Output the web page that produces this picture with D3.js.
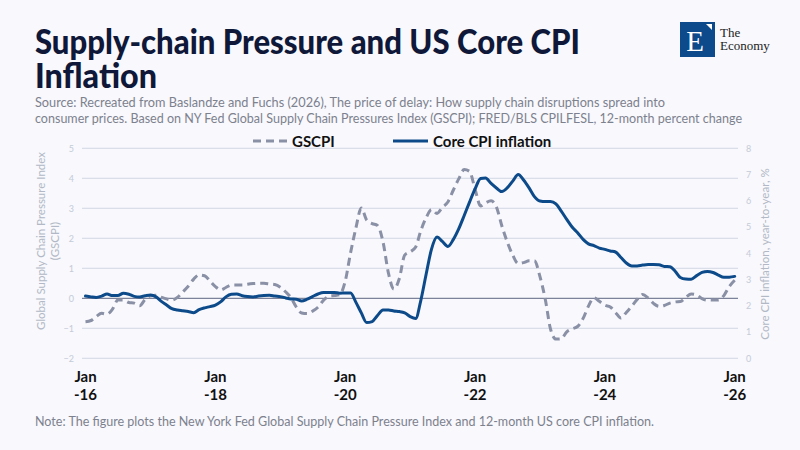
<!DOCTYPE html>
<html><head><meta charset="utf-8">
<script src="https://cdn.jsdelivr.net/npm/d3@7/dist/d3.min.js"></script>
<style>
html,body{margin:0;padding:0;background:#f8f8fd;}
svg{display:block;}
</style>
</head><body>
<svg id="chart" width="800" height="450"></svg>
<script>
// ---------- DATA (monthly, Jan 2016 – Jan 2026) ----------
const seriesNames = ["GSCPI", "Core CPI inflation"];
const gscpi = [
 -0.78,-0.74,-0.61,-0.50,-0.53,-0.36,-0.06,-0.06,-0.14,-0.16,-0.25,-0.04,
  0.08, 0.10, 0.04,-0.02,-0.06, 0.03, 0.21, 0.40, 0.64, 0.78, 0.75, 0.58,
  0.39, 0.28, 0.36, 0.44, 0.44, 0.44, 0.47, 0.49, 0.50, 0.50, 0.48, 0.46,
  0.37, 0.21, 0.03,-0.29,-0.49,-0.51,-0.43,-0.30,-0.07, 0.07, 0.09, 0.12,
  0.56, 1.53, 2.33, 3.01, 2.61, 2.49, 2.43, 1.88, 0.83, 0.31, 0.66, 1.44,
  1.55, 1.71, 2.24, 2.69, 2.96, 2.83, 3.03, 3.21, 3.61, 3.98, 4.29, 4.23,
  3.64, 3.08, 3.18, 3.25, 3.05, 2.41, 1.88, 1.44, 1.16, 1.19, 1.25, 1.25,
  0.73,-0.06,-1.01,-1.36,-1.35,-1.12,-1.02,-0.94,-0.67,-0.26, 0.02,-0.10,
 -0.23,-0.29,-0.47,-0.66,-0.47,-0.26,-0.04, 0.13, 0.01,-0.17,-0.27,-0.24,
 -0.16,-0.12,-0.11, 0.03, 0.14, 0.11,-0.01,-0.06,-0.06,-0.06, 0.09, 0.39,
  0.60
];
const coreCpi = [
 2.37,2.34,2.32,2.37,2.45,2.39,2.39,2.48,2.44,2.36,2.34,2.38,
 2.41,2.34,2.18,2.03,1.89,1.84,1.81,1.78,1.74,1.85,1.92,1.97,
 2.03,2.16,2.34,2.44,2.45,2.38,2.35,2.34,2.37,2.39,2.40,2.37,
 2.35,2.30,2.26,2.25,2.18,2.25,2.35,2.45,2.51,2.51,2.51,2.48,
 2.49,2.49,2.14,1.73,1.36,1.40,1.63,1.84,1.84,1.80,1.78,1.73,
 1.59,1.52,2.18,3.21,4.16,4.62,4.45,4.26,4.53,4.93,5.44,5.95,
 6.45,6.85,6.87,6.66,6.49,6.35,6.49,6.75,7.00,6.79,6.49,6.16,
 5.99,5.97,5.97,5.88,5.61,5.29,5.00,4.78,4.53,4.36,4.29,4.20,
 4.15,4.09,4.05,3.84,3.63,3.52,3.52,3.55,3.57,3.57,3.56,3.50,
 3.49,3.31,3.08,3.02,3.01,3.15,3.27,3.31,3.27,3.17,3.09,3.09,
 3.12
];
const leftTicks = [-2,-1,0,1,2,3,4,5];
const rightTicks = [0,1,2,3,4,5,6,7,8];
const xTickYears = [2016,2018,2020,2022,2024,2026];
const xTickMonth = "Jan";
const xTickYearLabels = ["-16","-18","-20","-22","-24","-26"];

const titleLines = ["Supply-chain Pressure and US Core CPI", "Inflation"];
const sourceLines = [
 "Source: Recreated from Baslandze and Fuchs (2026), The price of delay: How supply chain disruptions spread into",
 "consumer prices. Based on NY Fed Global Supply Chain Pressures Index (GSCPI); FRED/BLS CPILFESL, 12-month percent change"
];
const noteText = "Note: The figure plots the New York Fed Global Supply Chain Pressure Index and 12-month US core CPI inflation.";
const leftTitle = ["Global Supply Chain Pressure Index", "(GSCPI)"];
const rightTitle = "Core CPI inflation, year-to-year, %";

// ---------- SETUP ----------
const svg = d3.select("#chart");
const FONT = "Lato, 'Source Sans Pro', 'Noto Sans', sans-serif";
const SERIF = "'Liberation Serif','DejaVu Serif',serif";
const C = {
  bg:"#f8f8fd", title:"#0f1838", sub:"#7d818d", grid:"#d3d8e3", zero:"#7b8299",
  tick:"#c5cbd7", axTitle:"#b2b8c5", gscpi:"#8a90a5", cpi:"#0c4a8a", dark:"#111"
};
svg.append("rect").attr("width",800).attr("height",450).attr("fill",C.bg);

const dates = gscpi.map((_,i)=>d3.timeMonth.offset(new Date(2016,0,1), i));
const x = d3.scaleTime().domain([new Date(2016,0,1), new Date(2026,0,1)]).range([85.5,734.7]);
const yL = d3.scaleLinear().domain([-2,5]).range([358.3,148.3]);
const yR = d3.scaleLinear().domain([0,8]).range([358.3,148.3]);
const plotL = 82, plotR = 738;

// ---------- TITLE / SOURCE ----------
const titleW = [545, 122];
titleLines.forEach((t,i)=>{
  svg.append("text").text(t).attr("x",35).attr("y",54+34*i)
    .attr("font-family",FONT).attr("font-weight",900).attr("font-size",34).attr("fill",C.title)
    .attr("textLength",titleW[i]).attr("lengthAdjust","spacingAndGlyphs");
});
const srcW = [630, 707];
sourceLines.forEach((t,i)=>{
  svg.append("text").text(t).attr("x",35).attr("y",107+16*i)
    .attr("font-family",FONT).attr("font-size",13.5).attr("fill",C.sub)
    .attr("textLength",srcW[i]).attr("lengthAdjust","spacingAndGlyphs");
});

// ---------- LOGO ----------
const logo = svg.append("g");
logo.append("rect").attr("x",680).attr("y",22).attr("width",35).attr("height",35).attr("fill","#0d4a8c");
logo.append("text").text("E").attr("x",695).attr("y",51).attr("text-anchor","middle")
  .attr("font-family",SERIF).attr("font-size",29).attr("fill","#fff");
logo.append("polygon").attr("points","706,24 712,24 712,30").attr("fill","#fff");
logo.append("text").text("The").attr("x",720).attr("y",37)
  .attr("font-family",SERIF).attr("font-size",13).attr("fill","#222");
logo.append("text").text("Economy").attr("x",720).attr("y",49.5)
  .attr("font-family",SERIF).attr("font-size",13).attr("fill","#222");

// ---------- LEGEND ----------
const lg = svg.append("g").attr("font-family",FONT).attr("font-weight",700).attr("font-size",15).attr("fill",C.dark);
lg.append("line").attr("x1",253).attr("x2",287).attr("y1",141).attr("y2",141)
  .attr("stroke",C.gscpi).attr("stroke-width",3).attr("stroke-dasharray","8,5");
lg.append("text").text(seriesNames[0]).attr("x",292).attr("y",146.5);
lg.append("line").attr("x1",393).attr("x2",428).attr("y1",141).attr("y2",141)
  .attr("stroke",C.cpi).attr("stroke-width",3);
lg.append("text").text(seriesNames[1]).attr("x",433).attr("y",146.5);

// ---------- GRID & AXES ----------
const g = svg.append("g");
leftTicks.forEach(v=>{
  g.append("line").attr("x1",plotL).attr("x2",plotR).attr("y1",yL(v)).attr("y2",yL(v))
    .attr("stroke", v===0 ? C.zero : C.grid).attr("stroke-width", v===0 ? 1.3 : 1);
});
const axL = svg.append("g").attr("transform","translate(74,0)")
  .call(d3.axisLeft(yL).tickValues(leftTicks).tickSize(0).tickPadding(0).tickFormat(d3.format("d")));
const axR = svg.append("g").attr("transform","translate(746,0)")
  .call(d3.axisRight(yR).tickValues(rightTicks).tickSize(0).tickPadding(0).tickFormat(d3.format("d")));
[axL,axR].forEach(a=>{
  a.select(".domain").remove();
  a.selectAll("text").attr("font-family",FONT).attr("font-size",9).attr("fill",C.tick);
});

// x axis labels
const xt = svg.append("g").attr("font-family",FONT).attr("font-weight",700).attr("font-size",15)
  .attr("fill",C.dark).attr("text-anchor","middle");
xTickYears.forEach((yr,i)=>{
  const px = x(new Date(yr,0,1));
  xt.append("text").text(xTickMonth).attr("x",px).attr("y",381.5);
  xt.append("text").text(xTickYearLabels[i]).attr("x",px).attr("y",399.5);
});

// axis titles
leftTitle.forEach((t,i)=>{
  svg.append("text").text(t).attr("transform",`translate(${45+14*i},241) rotate(-90)`)
    .attr("font-family",FONT).attr("font-size",11.5).attr("fill",C.axTitle).attr("text-anchor","middle");
});
svg.append("text").text(rightTitle).attr("transform","translate(769,254) rotate(-90)")
  .attr("font-family",FONT).attr("font-size",11.5).attr("fill",C.axTitle).attr("text-anchor","middle");

// ---------- LINES ----------
const lineL = d3.line().x((d,i)=>x(dates[i])).y(d=>yL(d)).curve(d3.curveMonotoneX);
const lineR = d3.line().x((d,i)=>x(dates[i])).y(d=>yR(d)).curve(d3.curveMonotoneX);
svg.append("path").datum(gscpi).attr("d",lineL).attr("fill","none")
  .attr("stroke",C.gscpi).attr("stroke-width",3).attr("stroke-dasharray","8,5").attr("stroke-linejoin","round");
svg.append("path").datum(coreCpi).attr("d",lineR).attr("fill","none")
  .attr("stroke",C.cpi).attr("stroke-width",3).attr("stroke-linejoin","round").attr("stroke-linecap","round");

// ---------- NOTE ----------
svg.append("text").text(noteText).attr("x",35).attr("y",426)
  .attr("font-family",FONT).attr("font-size",13.5).attr("fill",C.sub)
  .attr("textLength",619).attr("lengthAdjust","spacingAndGlyphs");
</script>
</body></html>
